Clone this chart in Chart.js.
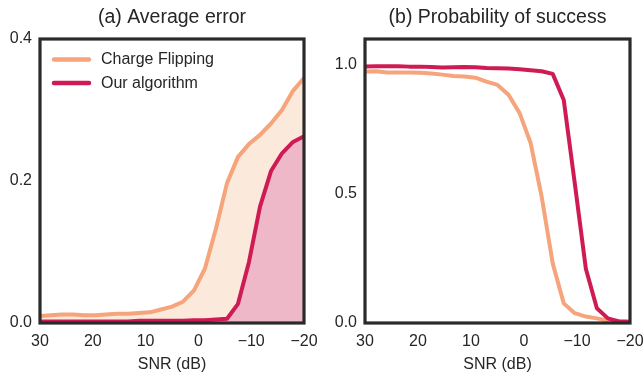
<!DOCTYPE html>
<html>
<head>
<meta charset="utf-8">
<script src="https://cdn.jsdelivr.net/npm/chart.js@4/dist/chart.umd.min.js"></script>
<style>
  html, body { margin: 0; padding: 0; background: #ffffff; }
  #wrap { width: 644px; height: 377px; display: flex; }
  .panel { width: 322px; height: 377px; position: relative; }
</style>
</head>
<body>
<div id="wrap">
  <div class="panel"><canvas id="c1" width="322" height="377"></canvas></div>
  <div class="panel"><canvas id="c2" width="322" height="377"></canvas></div>
</div>
<script>
// ---- data ----
const snr = [30, 27.92, 25.83, 23.75, 21.67, 19.58, 17.5, 15.42, 13.33, 11.25, 9.17, 7.08, 5, 2.92, 0.83, -1.25, -3.33, -5.42, -7.5, -9.58, -11.67, -13.75, -15.83, -17.92, -20];
const seriesNames = ["Charge Flipping", "Our algorithm"];
const errorChargeFlipping = [0.010, 0.011, 0.012, 0.012, 0.011, 0.011, 0.012, 0.013, 0.013, 0.014, 0.015, 0.019, 0.023, 0.030, 0.046, 0.077, 0.133, 0.197, 0.234, 0.252, 0.265, 0.281, 0.300, 0.327, 0.345];
const errorOurs = [0.002, 0.002, 0.002, 0.002, 0.002, 0.002, 0.002, 0.002, 0.002, 0.003, 0.003, 0.003, 0.003, 0.003, 0.004, 0.004, 0.005, 0.006, 0.027, 0.086, 0.164, 0.214, 0.239, 0.255, 0.263];
const successChargeFlipping = [0.974, 0.975, 0.970, 0.970, 0.970, 0.969, 0.966, 0.962, 0.957, 0.955, 0.950, 0.935, 0.922, 0.884, 0.813, 0.697, 0.490, 0.231, 0.076, 0.038, 0.025, 0.018, 0.010, 0.008, 0.007];
const successOurs = [0.993, 0.994, 0.994, 0.994, 0.993, 0.993, 0.992, 0.990, 0.991, 0.992, 0.991, 0.988, 0.987, 0.986, 0.983, 0.979, 0.975, 0.965, 0.864, 0.541, 0.210, 0.057, 0.018, 0.006, 0.004];
const xTicks = [30, 20, 10, 0, -10, -20];
const errorTicks = [0, 0.2, 0.4];
const successTicks = [0, 0.5, 1.0];
const titles = ["(a) Average error", "(b) Probability of success"];
const xLabel = "SNR (dB)";

// ---- style ----
const FONT = "'Liberation Sans', Arial, sans-serif";
const TEXT = "#262626";
const FRAME = "#2a2a2a";
const ORANGE = "#f5a47b";
const RED = "#cf1b53";
const ORANGE_FILL = "#fbeadc";
const RED_FILL = "#eeb8c9";

function pts(xs, ys) { return xs.map((x, i) => ({x: x, y: ys[i]})); }
function fmtX(v) { return v < 0 ? "\u2212" + Math.abs(v) : String(v); }

const framePlugin = {
  id: 'frame',
  afterDatasetsDraw(chart) {
    const a = chart.chartArea, ctx = chart.ctx;
    ctx.save();
    ctx.strokeStyle = FRAME;
    ctx.lineWidth = 3.2;
    ctx.strokeRect(a.left, a.top, a.right - a.left, a.bottom - a.top);
    ctx.restore();
  }
};

const titlePlugin = {
  id: 'panelTitle',
  afterDraw(chart, args, opts) {
    if (!opts || !opts.text) return;
    const a = chart.chartArea, ctx = chart.ctx;
    ctx.save();
    ctx.fillStyle = TEXT;
    ctx.font = "19.5px " + FONT;
    ctx.textAlign = 'center';
    ctx.textBaseline = 'middle';
    ctx.fillText(opts.text, (a.left + a.right) / 2, 17.5);
    ctx.restore();
  }
};

const legendPlugin = {
  id: 'innerLegend',
  afterDraw(chart, args, opts) {
    if (!opts || !opts.show) return;
    const a = chart.chartArea, ctx = chart.ctx;
    ctx.save();
    const items = [chart.data.datasets[0], chart.data.datasets[1]];
    items.forEach((ds, i) => {
      const y = a.top + 20.5 + i * 23.5;
      ctx.strokeStyle = ds.borderColor;
      ctx.lineWidth = 4.5;
      ctx.lineCap = 'round';
      ctx.beginPath();
      ctx.moveTo(a.left + 14, y);
      ctx.lineTo(a.left + 49, y);
      ctx.stroke();
      ctx.fillStyle = TEXT;
      ctx.font = "16px " + FONT;
      ctx.textBaseline = 'middle';
      ctx.textAlign = 'left';
      ctx.fillText(ds.label, a.left + 61, y + 0.5);
    });
    ctx.restore();
  }
};

function makeChart(id, title, cf, ours, yMax, yTicks, fill, yAxisW, rightPad, showLegend, yFmt) {
  const datasets = [
    {
      label: seriesNames[0], data: pts(snr, cf), borderColor: ORANGE, backgroundColor: ORANGE_FILL,
      borderWidth: 4, pointRadius: 0, tension: 0, fill: fill ? 'origin' : false, order: 2,
      borderJoinStyle: 'round'
    },
    {
      label: seriesNames[1], data: pts(snr, ours), borderColor: RED, backgroundColor: RED_FILL,
      borderWidth: 4, pointRadius: 0, tension: 0, fill: fill ? 'origin' : false, order: 1,
      borderJoinStyle: 'round'
    }
  ];
  return new Chart(document.getElementById(id), {
    type: 'line',
    data: { datasets: datasets },
    plugins: [framePlugin, legendPlugin, titlePlugin],
    options: {
      responsive: false,
      animation: false,
      events: [],
      layout: { padding: { left: 0, right: rightPad, top: 39, bottom: 0 } },
      plugins: {
        legend: { display: false },
        tooltip: { enabled: false },
        title: { display: false },
        filler: { drawTime: 'beforeDatasetsDraw' },
        innerLegend: { show: showLegend },
        panelTitle: { text: title }
      },
      scales: {
        x: {
          type: 'linear', reverse: true, min: -20, max: 30,
          grid: { display: false, drawTicks: false },
          border: { display: false },
          afterBuildTicks: (s) => { s.ticks = xTicks.map(v => ({value: v})); },
          afterFit: (s) => { s.height = 54; s.paddingLeft = 0; s.paddingRight = 0; },
          ticks: {
            color: TEXT, padding: 9, maxRotation: 0, autoSkip: false,
            font: { family: FONT, size: 16 },
            callback: (v) => fmtX(v)
          },
          title: {
            display: true, text: xLabel, color: TEXT,
            font: { family: FONT, size: 16 },
            padding: { top: 0, bottom: 3 }
          }
        },
        y: {
          type: 'linear', min: 0, max: yMax,
          grid: { display: false, drawTicks: false },
          border: { display: false },
          afterBuildTicks: (s) => { s.ticks = yTicks.map(v => ({value: v})); },
          afterFit: (s) => { s.width = yAxisW; s.paddingTop = 0; s.paddingBottom = 0; },
          ticks: {
            color: TEXT, padding: 8, autoSkip: false,
            font: { family: FONT, size: 16 },
            callback: (v) => yFmt(v)
          }
        }
      }
    }
  });
}

makeChart('c1', titles[0], errorChargeFlipping, errorOurs, 0.4, errorTicks, true, 40, 18, true, v => v.toFixed(1));
makeChart('c2', titles[1], successChargeFlipping, successOurs, 1.1, successTicks, false, 43, 14, false, v => v.toFixed(1));
</script>
</body>
</html>
